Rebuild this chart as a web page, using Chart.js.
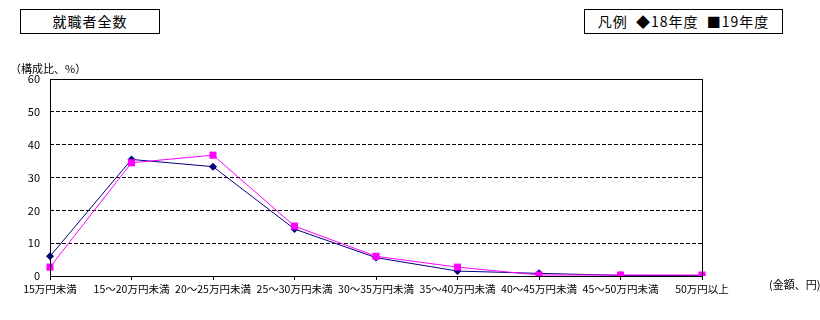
<!DOCTYPE html>
<html>
<head>
<meta charset="utf-8">
<script src="https://cdn.jsdelivr.net/npm/chart.js@4.4.1/dist/chart.umd.min.js"></script>
<style>
  body { margin: 0; background: #fff; }
  #wrap { position: relative; width: 820px; height: 320px; font-family: "Noto Sans CJK JP", sans-serif; color: #000; }
  #myChart { position: absolute; left: 0; top: 0; }
  .box { position: absolute; border: 1px solid #000; box-sizing: border-box; height: 25px; top: 9px;
         font-size: 14px; line-height: 23px; text-align: center; background: #fff; white-space: nowrap; }
  .unit { position: absolute; font-size: 11px; line-height: 12px; white-space: nowrap; }
</style>
</head>
<body>
<div id="wrap">
  <canvas id="myChart" width="820" height="320"></canvas>
  <div class="box" id="title" style="left:20px; width:140px; letter-spacing:1px;">就職者全数</div>
  <div class="box" id="legend" style="left:584px; width:199px; letter-spacing:1px;">凡例&nbsp;&nbsp;◆18年度&nbsp;&nbsp;■19年度</div>
  <div class="unit" style="left:10px; top:62px;">（構成比、%）</div>
  <div class="unit" style="left:769px; top:278px;">(金額、円)</div>
</div>
<script>
const categories = ["15万円未満", "15～20万円未満", "20～25万円未満", "25～30万円未満", "30～35万円未満",
    "35～40万円未満", "40～45万円未満", "45～50万円未満", "50万円以上"];
const values18 = [6.0, 35.5, 33.3, 14.3, 5.6, 1.5, 0.8, 0.2, 0.1];
const values19 = [2.7, 34.5, 36.8, 15.2, 6.0, 2.7, 0.3, 0.3, 0.3];
const yTicks = [0, 10, 20, 30, 40, 50, 60];

function init() {
    const canvas = document.getElementById("myChart");

    // frame round the plot area
    const frame = {
        id: "frame",
        afterDraw(chart) {
            const a = chart.chartArea;
            const ctx = chart.ctx;
            ctx.save();
            ctx.strokeStyle = "#000";
            ctx.lineWidth = 1;
            ctx.strokeRect(Math.round(a.left) + 0.5, Math.round(a.top) + 0.5,
                Math.round(a.right - a.left), Math.round(a.bottom - a.top));
            ctx.restore();
        }
    };

    new Chart(canvas, {
        type: "line",
        data: {
            labels: categories,
            datasets: [
                {
                    label: "19年度", data: values19, order: 0,
                    borderColor: "#ff00ff", backgroundColor: "#ff00ff", borderWidth: 1,
                    pointStyle: "rect", pointRadius: 5, pointBorderWidth: 0, tension: 0
                },
                {
                    label: "18年度", data: values18, order: 1,
                    borderColor: "#000080", backgroundColor: "#000080", borderWidth: 1,
                    pointStyle: "rectRot", pointRadius: 4, pointBorderWidth: 0, tension: 0
                }
            ]
        },
        options: {
            responsive: false,
            animation: false,
            layout: { padding: { left: 0, right: 118, top: 79, bottom: 0 } },
            plugins: { legend: { display: false }, tooltip: { enabled: false } },
            scales: {
                x: {
                    offset: false,
                    grid: { display: true, drawOnChartArea: false, color: "#000", tickLength: 4 },
                    border: { display: false },
                    ticks: {
                        color: "#000", maxRotation: 0, autoSkip: false, padding: 3,
                        font: { family: "Noto Sans CJK JP", size: 10.5 }
                    },
                    afterFit(scale) { scale.height = 44; }
                },
                y: {
                    min: 0, max: 60,
                    afterBuildTicks(scale) { scale.ticks = yTicks.map(v => ({ value: v })); },
                    grid: {
                        drawTicks: false,
                        color: ctx => (ctx.tick.value === 0 || ctx.tick.value === 60) ? "rgba(0,0,0,0)" : "#000"
                    },
                    border: { display: false, dash: [4, 2] },
                    ticks: {
                        color: "#000", padding: 10,
                        font: { family: "Noto Sans CJK JP", size: 11 }
                    },
                    afterFit(scale) { scale.width = 50; }
                }
            }
        },
        plugins: [frame]
    });
}

document.addEventListener("DOMContentLoaded", init);
</script>
</body>
</html>
